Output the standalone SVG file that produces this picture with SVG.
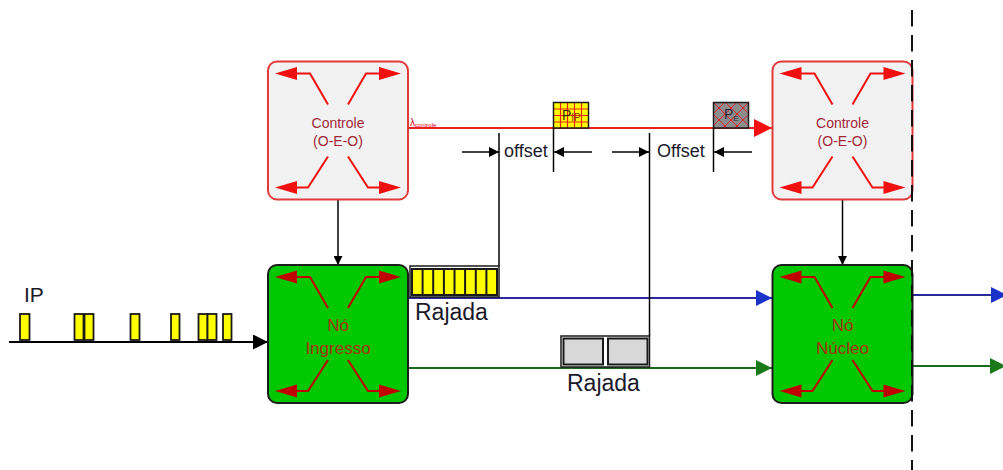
<svg xmlns="http://www.w3.org/2000/svg" width="1003" height="470" viewBox="0 0 1003 470">
  <style>
    .ctl-box { fill: #f2f2f2; stroke: #e23a3a; stroke-width: 2; }
    .core-box { fill: #00c800; stroke: #1c1c1c; stroke-width: 2; }
    .ctl-arrows { color: #f01010; }
    .core-arrows { color: #c00000; }
    .ctl-label { font-family: "Liberation Sans", Arial, sans-serif; font-size: 14px; fill: #a02838; text-anchor: middle; }
    .core-label { font-family: "Liberation Sans", Arial, sans-serif; font-size: 17px; fill: #a83010; text-anchor: middle; }
    .dim { fill: none; stroke: #000; stroke-width: 1.5; }
    .dim-text { font-family: "Liberation Sans", Arial, sans-serif; font-size: 18px; fill: #1a1a2a; }
    .burst-text { font-family: "Liberation Sans", Arial, sans-serif; font-size: 23px; fill: #1a1a2a; }
    .ip-pkt { fill: #ffff00; stroke: #1a1a1a; stroke-width: 1.8; }
  </style>
  <defs>
    <!-- four outward arrows of a switching node, centred on 0,0; coloured via currentColor -->
    <g id="xarrows">
      <g fill="none" stroke="currentColor" stroke-width="2">
        <polyline points="-10,-26 -28,-57 -42,-57"/>
        <polyline points="10,-26 28,-57 42,-57"/>
        <polyline points="-10,26 -30,57 -42,57"/>
        <polyline points="10,26 30,57 42,57"/>
      </g>
      <g fill="currentColor">
        <polygon points="-41,-63.5 -63,-57 -41,-50.5"/>
        <polygon points="41,-63.5 63,-57 41,-50.5"/>
        <polygon points="-41,50.5 -63,57 -41,63.5"/>
        <polygon points="41,50.5 63,57 41,63.5"/>
      </g>
    </g>
    <marker id="ah-black-sm" viewBox="0 0 10 10" refX="10" refY="5" markerUnits="userSpaceOnUse" markerWidth="9" markerHeight="9" orient="auto">
      <path d="M0,0 L10,5 L0,10 Z" fill="#000"/>
    </marker>
    <marker id="ah-black-lg" viewBox="0 0 10 10" refX="10" refY="5" markerUnits="userSpaceOnUse" markerWidth="19" markerHeight="15" orient="auto">
      <path d="M0,0 L10,5 L0,10 Z" fill="#000"/>
    </marker>
    <marker id="ah-dim" viewBox="0 0 10 10" refX="10" refY="5" markerUnits="userSpaceOnUse" markerWidth="18" markerHeight="10" orient="auto">
      <path d="M0,0 L10,5 L0,10 Z" fill="#000"/>
    </marker>
    <marker id="ah-red" viewBox="0 0 10 10" refX="10" refY="5" markerUnits="userSpaceOnUse" markerWidth="20" markerHeight="18" orient="auto">
      <path d="M0,0 L10,5 L0,10 Z" fill="#f01010"/>
    </marker>
    <marker id="ah-blue" viewBox="0 0 10 10" refX="10" refY="5" markerUnits="userSpaceOnUse" markerWidth="18" markerHeight="16" orient="auto">
      <path d="M0,0 L10,5 L0,10 Z" fill="#1a32c8"/>
    </marker>
    <marker id="ah-green" viewBox="0 0 10 10" refX="10" refY="5" markerUnits="userSpaceOnUse" markerWidth="18" markerHeight="16" orient="auto">
      <path d="M0,0 L10,5 L0,10 Z" fill="#1a7a1a"/>
    </marker>
    <pattern id="hatch-x" x="713" y="102" width="12" height="12" patternUnits="userSpaceOnUse">
      <path d="M0,0 L12,12 M12,0 L0,12" stroke="#e82020" stroke-width="1"/>
    </pattern>
  </defs>

  <rect width="1003" height="470" fill="#ffffff"/>

  <!-- connectors -->
  <g id="connectors">
    <line x1="408" y1="128" x2="772" y2="128" stroke="#e82020" stroke-width="2" marker-end="url(#ah-red)"/>
    <line x1="338" y1="200" x2="338" y2="265" stroke="#000" stroke-width="1.5" marker-end="url(#ah-black-sm)"/>
    <line x1="842.5" y1="200" x2="842.5" y2="265" stroke="#000" stroke-width="1.5" marker-end="url(#ah-black-sm)"/>
    <line x1="9" y1="342" x2="268" y2="342" stroke="#000" stroke-width="1.8" marker-end="url(#ah-black-lg)"/>
    <line x1="408" y1="298" x2="772" y2="298" stroke="#2a2a9a" stroke-width="1.8" marker-end="url(#ah-blue)"/>
    <line x1="408" y1="368" x2="772" y2="368" stroke="#1a6a1a" stroke-width="1.8" marker-end="url(#ah-green)"/>
    <line x1="912" y1="295" x2="1007" y2="295" stroke="#2a2a9a" stroke-width="1.8" marker-end="url(#ah-blue)"/>
    <line x1="912" y1="366" x2="1006" y2="366" stroke="#1a6a1a" stroke-width="1.8" marker-end="url(#ah-green)"/>
  </g>

  <!-- offset dimensions -->
  <g id="offsets">
    <line class="dim" x1="499" y1="133" x2="499" y2="266"/>
    <line class="dim" x1="553.5" y1="128" x2="553.5" y2="172"/>
    <line class="dim" x1="649.5" y1="133" x2="649.5" y2="336"/>
    <line class="dim" x1="713.5" y1="128" x2="713.5" y2="172"/>
    <line class="dim" x1="462" y1="152" x2="499" y2="152" marker-end="url(#ah-dim)"/>
    <line class="dim" x1="592" y1="152" x2="554" y2="152" marker-end="url(#ah-dim)"/>
    <line class="dim" x1="612" y1="152" x2="649" y2="152" marker-end="url(#ah-dim)"/>
    <line class="dim" x1="752" y1="152" x2="714" y2="152" marker-end="url(#ah-dim)"/>
    <text class="dim-text" x="504" y="157">offset</text>
    <text class="dim-text" x="657" y="157">Offset</text>
  </g>

  <!-- control channel label -->
  <text x="410" y="126" font-family="Liberation Sans, Arial, sans-serif" font-size="10" fill="#e00020">λ<tspan font-size="6" dy="1">controle</tspan></text>

  <!-- burst header packets -->
  <g id="pkt-ip">
    <rect x="553.5" y="102.5" width="35" height="25.5" fill="#ffff00"/>
    <path d="M560.5,102.5 V128 M567.5,102.5 V128 M574.5,102.5 V128 M581.5,102.5 V128 M553.5,109 H588.5 M553.5,115.5 H588.5 M553.5,122 H588.5" stroke="#e82020" stroke-width="1.2"/>
    <rect x="553.5" y="102.5" width="35" height="25.5" fill="none" stroke="#1a1a1a" stroke-width="1.5"/>
    <text x="562" y="120" font-family="Liberation Sans, Arial, sans-serif" font-size="14" fill="#3a2a10">P<tspan font-size="10" dy="1" fill="#8a3010">IP</tspan></text>
  </g>
  <g id="pkt-e">
    <rect x="713.5" y="102.5" width="35" height="25.5" fill="#8c8c8c"/>
    <rect x="713.5" y="102.5" width="35" height="25.5" fill="url(#hatch-x)"/>
    <rect x="713.5" y="102.5" width="35" height="25.5" fill="none" stroke="#1a1a1a" stroke-width="1.5"/>
    <text x="724" y="119" font-family="Liberation Sans, Arial, sans-serif" font-size="14" fill="#2a2a3a">P<tspan font-size="8" dy="2">E</tspan></text>
  </g>

  <!-- data bursts -->
  <g id="burst-yellow">
    <rect x="410" y="266" width="89" height="31" fill="#ffffff" stroke="#1a1a1a" stroke-width="1.5"/>
    <rect x="412" y="269" width="85" height="26" fill="#ffff00" stroke="#1a1a1a" stroke-width="2"/>
    <path d="M422.6,269 V295 M433.2,269 V295 M443.9,269 V295 M454.5,269 V295 M465.1,269 V295 M475.8,269 V295 M486.4,269 V295" stroke="#1a1a1a" stroke-width="2"/>
    <text class="burst-text" x="415" y="320">Rajada</text>
  </g>
  <g id="burst-gray">
    <rect x="561" y="336" width="88.5" height="31" fill="#ffffff" stroke="#1a1a1a" stroke-width="1.5"/>
    <rect x="563.5" y="338.5" width="39.5" height="26" fill="#d8d8d8" stroke="#1a1a1a" stroke-width="2"/>
    <rect x="608" y="338.5" width="39.5" height="26" fill="#d8d8d8" stroke="#1a1a1a" stroke-width="2"/>
    <text class="burst-text" x="567" y="391">Rajada</text>
  </g>

  <!-- incoming IP packets -->
  <g id="ip-flow">
    <text x="24" y="302" font-family="Liberation Sans, Arial, sans-serif" font-size="21" fill="#1a1a2a">IP</text>
    <rect class="ip-pkt" x="20" y="314" width="9.5" height="26"/>
    <rect class="ip-pkt" x="74.5" y="314" width="9" height="26"/>
    <rect class="ip-pkt" x="84.5" y="314" width="9" height="26"/>
    <rect class="ip-pkt" x="130.5" y="314" width="9" height="26"/>
    <rect class="ip-pkt" x="171" y="314" width="8.5" height="26"/>
    <rect class="ip-pkt" x="198.5" y="314" width="9" height="26"/>
    <rect class="ip-pkt" x="207.5" y="314" width="9" height="26"/>
    <rect class="ip-pkt" x="223" y="314" width="8.5" height="26"/>
  </g>

  <!-- nodes -->
  <g id="ctl-ingress">
    <rect class="ctl-box" x="268" y="61.5" width="140" height="138" rx="9"/>
    <use href="#xarrows" class="ctl-arrows" transform="translate(338,130.5)"/>
    <text class="ctl-label" x="338" y="128">Controle</text>
    <text class="ctl-label" x="338" y="146">(O-E-O)</text>
  </g>
  <g id="ctl-core">
    <rect class="ctl-box" x="772.5" y="61.5" width="140" height="138" rx="9"/>
    <use href="#xarrows" class="ctl-arrows" transform="translate(842.5,130.5)"/>
    <text class="ctl-label" x="842.5" y="128">Controle</text>
    <text class="ctl-label" x="842.5" y="146">(O-E-O)</text>
  </g>
  <g id="node-ingress">
    <rect class="core-box" x="268" y="265" width="140" height="138" rx="9"/>
    <use href="#xarrows" class="core-arrows" transform="translate(338,334)"/>
    <text class="core-label" x="338" y="331">Nó</text>
    <text class="core-label" x="338" y="354">Ingresso</text>
  </g>
  <g id="node-core">
    <rect class="core-box" x="772.5" y="265" width="140" height="138" rx="9"/>
    <use href="#xarrows" class="core-arrows" transform="translate(842.5,334)"/>
    <text class="core-label" x="842.5" y="331">Nó</text>
    <text class="core-label" x="842.5" y="354">Núcleo</text>
  </g>

  <!-- domain boundary -->
  <line x1="912" y1="10" x2="912" y2="470" stroke="#111" stroke-width="2" stroke-dasharray="16.5 8.5"/>
</svg>
